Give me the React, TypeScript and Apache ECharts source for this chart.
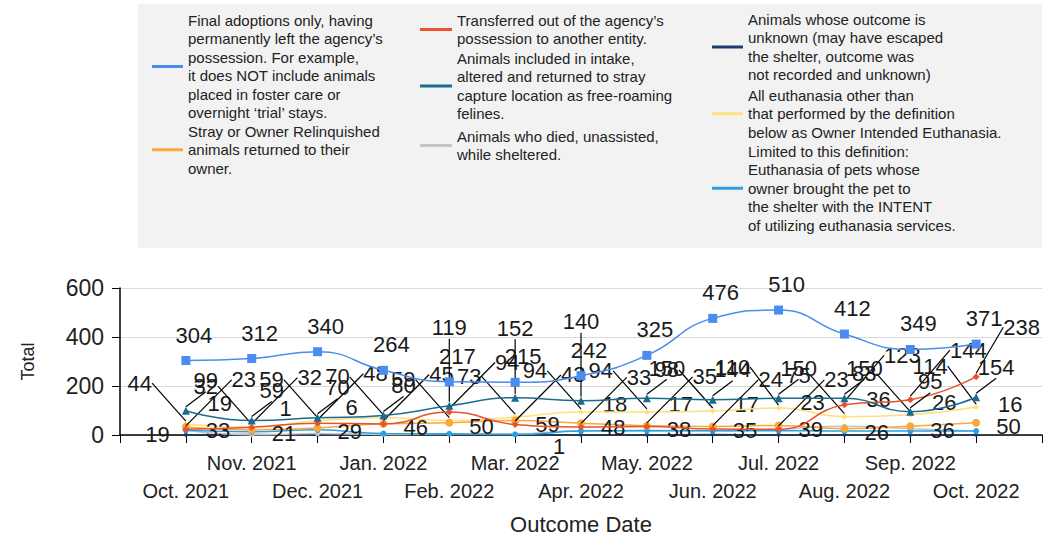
import React, { useEffect, useRef } from "react";
import * as echarts from "echarts";

const FONT = "'Liberation Sans', Arial, sans-serif";

const months = [
  "Oct. 2021", "Nov. 2021", "Dec. 2021", "Jan. 2022", "Feb. 2022", "Mar. 2022", "Apr. 2022",
  "May. 2022", "Jun. 2022", "Jul. 2022", "Aug. 2022", "Sep. 2022", "Oct. 2022",
];

const adoption = [304, 312, 340, 264, 217, 215, 242, 325, 476, 510, 412, 349, 371];
const returnedToOwner = [33, 21, 29, 46, 50, 59, 48, 38, 35, 39, 26, 36, 50];
const transferred = [23, 32, 48, 45, 94, 43, 33, 35, 24, 23, 123, 144, 238];
const returnedToField = [99, 59, 70, 80, 119, 152, 140, 150, 144, 150, 150, 95, 154];
const died = [19, 1, 6, 2, 5, 5, 18, 17, 17, 23, 36, 26, 16];
const unknown = [1, 2, 1, 2, 5, 1, 1, 1, 2, 1, 1, 1, 1];
const euthanasiaOther = [44, 32, 59, 70, 59, 73, 94, 94, 98, 110, 75, 83, 114];
const ownerIntended = [19, 13, 21, 6, 5, 2, 16, 18, 17, 18, 16, 16, 16];

const yTicks = { min: 0, max: 600, interval: 200 };

const names = {
  adoption:
    "Final adoptions only, having\npermanently left the agency\u2019s\npossession. For example,\nit does NOT include animals\nplaced in foster care or\novernight \u2018trial\u2019 stays.",
  rto: "Stray or Owner Relinquished\nanimals returned to their\nowner.",
  transfer: "Transferred out of the agency\u2019s\npossession to another entity.",
  rtf: "Animals included in intake,\naltered and returned to stray\ncapture location as free-roaming\nfelines.",
  died: "Animals who died, unassisted,\nwhile sheltered.",
  unknown:
    "Animals whose outcome is\nunknown (may have escaped\nthe shelter, outcome was\nnot recorded and unknown)",
  euth: "All euthanasia other than\nthat performed by the definition\nbelow as Owner Intended Euthanasia.",
  oie: "Limited to this definition:\nEuthanasia of pets whose\nowner brought the pet to\nthe shelter with the INTENT\nof utilizing euthanasia services.",
};

const legendText = { fontFamily: FONT, fontSize: 15, lineHeight: 18.5, color: "#222" };

function legendAt(name: string, left: number, top: number, iw: number) {
  return {
    show: true,
    data: [name],
    left,
    top,
    orient: "vertical",
    padding: 0,
    itemWidth: iw,
    itemHeight: 3,
    itemGap: 0,
    icon: "rect",
    selectedMode: false,
    textStyle: legendText,
  };
}

const RIGHT_LIMIT = 1040;
const PX_PER_UNIT = 147 / 600;

function clampDx(r: any, dx: number) {
  let d = dx;
  if (r.x + r.width + d > RIGHT_LIMIT) d = RIGHT_LIMIT - r.x - r.width;
  if (r.x + d < 110) d = 110 - r.x;
  return d;
}

function shifted(dx: number, dy: number, extra: any = {}) {
  return (p: any) => ({ dx: clampDx(p.labelRect, dx), dy, ...extra });
}

// returned-to-field labels jump above the adoption label where the two lines run close
function rtfLayout(p: any) {
  const i = p.dataIndex;
  const gap = adoption[i] - returnedToField[i];
  if (gap < 110) return { dx: 0, dy: -(gap * PX_PER_UNIT) - 34 };
  return { dx: clampDx(p.labelRect, 20), dy: -10 };
}

function mk(
  name: string,
  values: number[],
  color: string,
  symbol: string,
  symbolSize: number,
  label: any,
  layout: any,
  z: number,
  withLine: boolean
) {
  return {
    name,
    type: "line",
    smooth: true,
    z,
    data: values.map((v, i) => [i, v]),
    symbol,
    symbolSize,
    showSymbol: true,
    lineStyle: { color, width: 1.5 },
    itemStyle: { color },
    label: {
      show: true,
      fontSize: 22,
      color: "#1a1a1a",
      fontFamily: FONT,
      formatter: (p: any) => String(p.value[1]),
      ...label,
    },
    labelLine: { show: withLine, lineStyle: { color: "#000", width: 1.2 } },
    labelLayout: layout,
  };
}

export default function App() {
  const ref = useRef<HTMLDivElement>(null);
  useEffect(() => {
    const chart = echarts.init(ref.current!, null, { renderer: "svg" });
    const option: any = {
      animation: false,
      backgroundColor: "#ffffff",
      textStyle: { fontFamily: FONT },
      graphic: [
        {
          type: "rect",
          left: 138,
          top: 4,
          z: -10,
          silent: true,
          shape: { width: 904, height: 244 },
          style: { fill: "#f2f2f2" },
        },
      ],
      legend: [
        legendAt(names.adoption, 152, 11, 31),
        legendAt(names.rto, 152, 122, 31),
        legendAt(names.transfer, 420, 11, 32),
        legendAt(names.rtf, 420, 49, 32),
        legendAt(names.died, 420, 127, 32),
        legendAt(names.unknown, 712, 10, 31),
        legendAt(names.euth, 712, 86, 31),
        legendAt(names.oie, 712, 142, 31),
      ],
      grid: { left: 120, right: 2, top: 288, height: 147, containLabel: false },
      xAxis: {
        type: "value",
        min: -1,
        max: months.length,
        interval: 1,
        name: "Outcome Date",
        nameLocation: "middle",
        nameGap: 78,
        nameTextStyle: { fontSize: 22, color: "#222", fontFamily: FONT },
        axisLine: { show: true, onZero: false, lineStyle: { color: "#000", width: 1.5 } },
        axisTick: { show: true, length: 8, lineStyle: { color: "#000" } },
        splitLine: { show: false },
        axisLabel: {
          fontSize: 20,
          lineHeight: 28,
          margin: 14,
          color: "#222",
          fontFamily: FONT,
          showMinLabel: true,
          showMaxLabel: true,
          formatter: (v: number) => {
            const i = Math.round(v);
            if (i < 0 || i >= months.length) return "";
            return i % 2 === 0 ? "\n" + months[i] : months[i];
          },
        },
      },
      yAxis: {
        type: "value",
        ...yTicks,
        name: "Total",
        nameLocation: "middle",
        nameGap: 83,
        nameTextStyle: { fontSize: 18, color: "#222", fontFamily: FONT },
        axisLine: { show: true, onZero: false, lineStyle: { color: "#000", width: 1.5 } },
        axisTick: { show: true, length: 8, lineStyle: { color: "#000" } },
        splitLine: { show: true, lineStyle: { color: "#d9d9d9", width: 1 } },
        axisLabel: { fontSize: 23, margin: 16, color: "#222", fontFamily: FONT },
      },
      series: [
        mk(names.adoption, adoption, "#4a8cf0", "rect", 9, { position: "top", distance: 10, offset: [8, 0] }, undefined, 8, false),
        mk(names.rto, returnedToOwner, "#f9a83a", "circle", 8, { position: "right", distance: 16 }, shifted(0, 4, { hideOverlap: true }), 5, false),
        mk(names.transfer, transferred, "#e8522d", "diamond", 7, { position: "top" }, shifted(58, -30), 6, true),
        mk(names.rtf, returnedToField, "#1b6a90", "triangle", 8, { position: "top" }, rtfLayout, 7, true),
        mk(names.died, died, "#c4c4c4", "circle", 5, { position: "top" }, shifted(34, -8, { hideOverlap: true }), 3, false),
        mk(names.unknown, unknown, "#1e3a6b", "circle", 4, { position: "bottom" }, shifted(-22, -6, { hideOverlap: true }), 2, false),
        mk(names.euth, euthanasiaOther, "#ffe07c", "diamond", 6, { position: "top" }, shifted(-46, -22), 4, true),
        mk(names.oie, ownerIntended, "#2aa0e0", "circle", 6, { position: "left" }, shifted(-8, 4, { hideOverlap: true }), 4, false),
      ],
    };
    chart.setOption(option);
    return () => chart.dispose();
  }, []);
  return (
    <div
      ref={ref}
      style={{ position: "fixed", left: 0, top: 0, width: 1045, height: 542, background: "#fff" }}
    />
  );
}
